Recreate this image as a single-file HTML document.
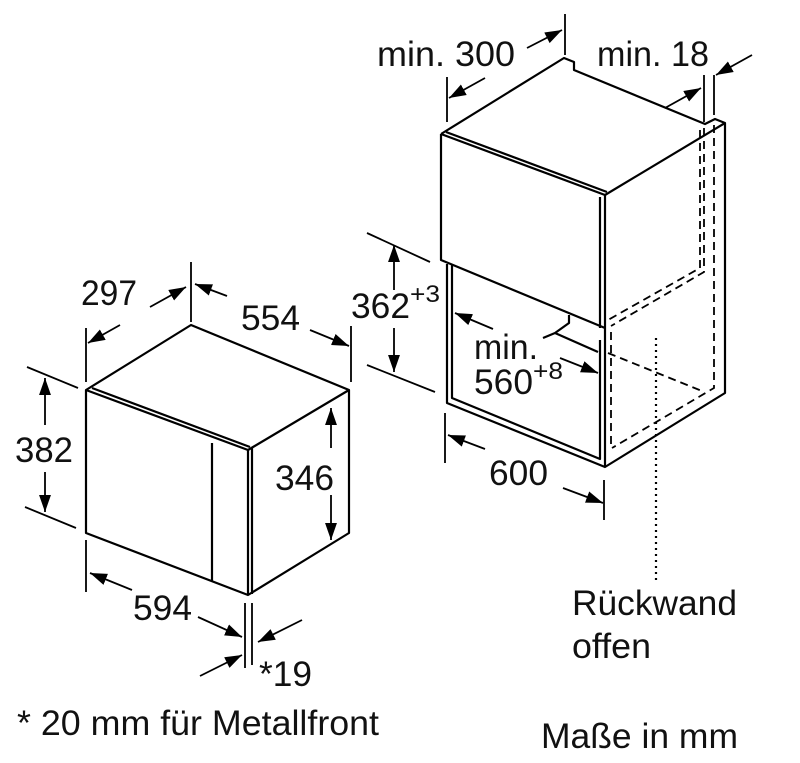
<!DOCTYPE html>
<html><head><meta charset="utf-8"><style>
html,body{margin:0;padding:0;background:#fff}
svg{display:block}
text{font-family:"Liberation Sans",Arial,sans-serif;fill:#111}
</style></head><body>
<svg width="800" height="763" viewBox="0 0 800 763" xmlns="http://www.w3.org/2000/svg">
<defs>
<marker id="a" viewBox="0 0 10 10" refX="10" refY="5" markerWidth="17" markerHeight="17" markerUnits="userSpaceOnUse" orient="auto">
<path d="M0,1.5 L10,5 L0,8.5 z" fill="#000"/></marker>
</defs>
<g stroke="#000" stroke-width="2.2" fill="none" stroke-linejoin="round">
<path d="M86,390 L191,325 L349,390 L349,533 L248,595 L86,533 Z"/>
<path d="M86,390 L248,450 L349,390"/>
<path d="M92,388 L250,447"/>
<path d="M248,450 L248,595 M252,448 L252,594"/>
<path d="M212,443 L212,582"/>
<path d="M441,134 L564,58 L574,62 L574,70 L705,124 L715,119 L725,123 L725,393 L605,467 L447,403 L447,264"/>
<path d="M441,134 L441,260 L605,328"/>
<path d="M441,134 L605,195 L725,123"/>
<path d="M446,132 L607,192"/>
<path d="M605,195 L605,467 M600,197 L600,328"/>
<path d="M452,264 L452,398 L600,459 L600,340"/>
<path d="M569,315 L569,323 L555,333 L543,338 M555,333 L598,352"/>
</g>
<g stroke="#000" stroke-width="1.8" fill="none" stroke-dasharray="8,5">
<path d="M700,130 L700,268 L608,320"/>
<path d="M704,128 L704,272 L611,326"/>
<path d="M714,125 L714,388 L612,448"/>
<path d="M608,353 L702,391"/>
<path d="M611,332 L611,448"/>
</g>
<path d="M656,338 L656,582" stroke="#000" stroke-width="2.2" stroke-dasharray="2,4" fill="none"/>
<g stroke="#000" stroke-width="1.8" fill="none">
<path d="M86,328 L86,382 M191,262 L191,322 M351,326 L351,382"/>
<path d="M120,325 L88,343" marker-end="url(#a)"/>
<path d="M150,307 L186,287" marker-end="url(#a)"/>
<path d="M227,296 L195,284" marker-end="url(#a)"/>
<path d="M310,330 L349,346" marker-end="url(#a)"/>
<path d="M27,367 L78,388 M25,507 L76,528"/>
<path d="M45,425 L45,378" marker-end="url(#a)"/>
<path d="M45,472 L45,512" marker-end="url(#a)"/>
<path d="M331,448 L331,408" marker-end="url(#a)"/>
<path d="M331,495 L331,540" marker-end="url(#a)"/>
<path d="M86,540 L86,592 M245,603 L245,668 M252,603 L252,665"/>
<path d="M132,590 L90,573" marker-end="url(#a)"/>
<path d="M198,617 L242,637" marker-end="url(#a)"/>
<path d="M302,620 L258,642" marker-end="url(#a)"/>
<path d="M200,676 L242,655" marker-end="url(#a)"/>
<path d="M565,14 L565,55 M447,77 L447,122 M704,75 L704,122 M714,75 L714,115"/>
<path d="M527,48 L562,30" marker-end="url(#a)"/>
<path d="M485,78 L449,98" marker-end="url(#a)"/>
<path d="M665,108 L701,88" marker-end="url(#a)"/>
<path d="M752,55 L716,75" marker-end="url(#a)"/>
<path d="M367,233 L430,262 M367,365 L435,392"/>
<path d="M394,290 L394,245" marker-end="url(#a)"/>
<path d="M394,328 L394,372" marker-end="url(#a)"/>
<path d="M493,329 L455,313" marker-end="url(#a)"/>
<path d="M560,358 L598,373" marker-end="url(#a)"/>
<path d="M445,413 L445,463 M604,480 L604,520"/>
<path d="M485,449 L448,435" marker-end="url(#a)"/>
<path d="M563,488 L603,503" marker-end="url(#a)"/>
</g>
<g font-size="35">
<text x="81" y="305" textLength="56" lengthAdjust="spacingAndGlyphs">297</text>
<text x="241" y="330" textLength="59" lengthAdjust="spacingAndGlyphs">554</text>
<text x="15" y="462" textLength="58" lengthAdjust="spacingAndGlyphs">382</text>
<text x="275" y="490" textLength="59" lengthAdjust="spacingAndGlyphs">346</text>
<text x="133" y="620" textLength="59" lengthAdjust="spacingAndGlyphs">594</text>
<text x="259" y="686" textLength="53" lengthAdjust="spacingAndGlyphs">*19</text>
<text x="377" y="66" textLength="138" lengthAdjust="spacingAndGlyphs">min. 300</text>
<text x="597" y="66" textLength="112" lengthAdjust="spacingAndGlyphs">min. 18</text>
<text x="351" y="318" textLength="59" lengthAdjust="spacingAndGlyphs">362</text>
<text x="410" y="302" font-size="24" textLength="30" lengthAdjust="spacingAndGlyphs">+3</text>
<text x="474" y="359" textLength="64" lengthAdjust="spacingAndGlyphs">min.</text>
<text x="474" y="394" textLength="59" lengthAdjust="spacingAndGlyphs">560</text>
<text x="533" y="379" font-size="24" textLength="30" lengthAdjust="spacingAndGlyphs">+8</text>
<text x="489" y="485" textLength="59" lengthAdjust="spacingAndGlyphs">600</text>
<text x="572" y="615" textLength="165" lengthAdjust="spacingAndGlyphs">Rückwand</text>
<text x="572" y="658" textLength="79" lengthAdjust="spacingAndGlyphs">offen</text>
<text x="17" y="735" textLength="362" lengthAdjust="spacingAndGlyphs">* 20 mm für Metallfront</text>
<text x="541" y="748" textLength="197" lengthAdjust="spacingAndGlyphs">Maße in mm</text>
</g>
</svg>
</body></html>
